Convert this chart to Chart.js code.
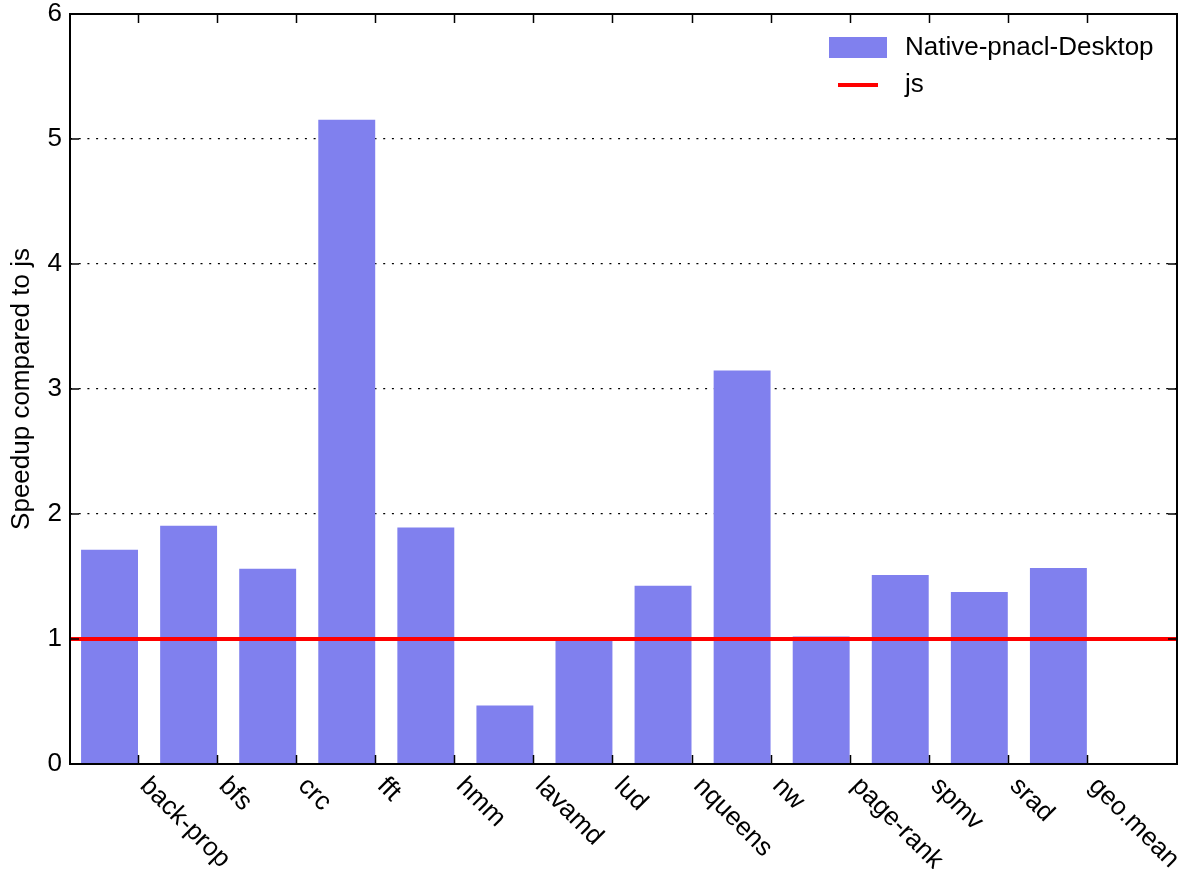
<!DOCTYPE html>
<html><head><meta charset="utf-8">
<script src="https://cdn.jsdelivr.net/npm/chart.js@4/dist/chart.umd.min.js"></script>
<style>html,body{margin:0;padding:0;background:#fff;} #wrap{width:1182px;height:869px;position:relative;}</style>
</head><body><div id="wrap"><canvas id="c"></canvas></div>
<script>
const categories = ['back-prop','bfs','crc','fft','hmm','lavamd','lud','nqueens','nw','page-rank','spmv','srad','geo.mean'];
const nativeValues = [1.714,1.906,1.562,5.154,1.893,0.469,0.995,1.426,3.149,1.021,1.512,1.376,1.568];
const jsX = [-0.5, 13.5];
const jsValues = [1, 1];
const yTickValues = [0,1,2,3,4,5,6];
const xTickOffset = 0.36;

const FONT = "'Liberation Sans', Arial, sans-serif";
const FS = 26;

const framePlugin = {
  id: 'frame',
  afterDraw(chart) {
    const ctx = chart.ctx, a = chart.chartArea;
    const xs = chart.scales.x, ys = chart.scales.y;
    ctx.save();
    ctx.strokeStyle = '#000';
    ctx.lineWidth = 1.5;
    ctx.beginPath();
    xs.ticks.forEach(t => {
      const px = Math.round(xs.getPixelForValue(t.value)) + 0.5;
      ctx.moveTo(px, a.bottom); ctx.lineTo(px, a.bottom - 9);
      ctx.moveTo(px, a.top); ctx.lineTo(px, a.top + 9);
    });
    yTickValues.forEach(v => {
      const py = ys.getPixelForValue(v);
      ctx.moveTo(a.left, py); ctx.lineTo(a.left + 9, py);
      ctx.moveTo(a.right, py); ctx.lineTo(a.right - 9, py);
    });
    ctx.stroke();
    ctx.lineWidth = 2;
    ctx.strokeRect(a.left, a.top, a.right - a.left, a.bottom - a.top);
    ctx.fillStyle = '#000';
    ctx.font = FS + 'px ' + FONT;
    ctx.textAlign = 'left';
    ctx.textBaseline = 'middle';
    xs.ticks.forEach(t => {
      const px = xs.getPixelForValue(t.value);
      const idx = Math.round(t.value - xTickOffset);
      ctx.save();
      ctx.translate(px + 6, a.bottom + 18);
      ctx.rotate(Math.PI / 4);
      ctx.fillText(categories[idx], 0, 0);
      ctx.restore();
    });
    const ds = chart.data.datasets;
    const bar = ds.find(d => d.type !== 'line');
    const line = ds.find(d => d.type === 'line');
    ctx.fillStyle = bar.backgroundColor;
    ctx.fillRect(829, 37, 58, 21);
    ctx.fillStyle = '#000';
    ctx.fillText(bar.label, 905, 48);
    ctx.strokeStyle = line.borderColor;
    ctx.lineWidth = 4;
    ctx.beginPath(); ctx.moveTo(838, 85); ctx.lineTo(878, 85); ctx.stroke();
    ctx.fillStyle = '#000';
    ctx.fillText(line.label, 905, 85);
    ctx.restore();
  }
};

new Chart(document.getElementById('c'), {
  type: 'bar',
  data: {
    datasets: [
      {
        type: 'line', label: 'js', order: 0,
        data: jsX.map((x, i) => ({x, y: jsValues[i]})),
        borderColor: '#ff0000', borderWidth: 4, pointRadius: 0, fill: false, tension: 0
      },
      {
        type: 'bar', label: 'Native-pnacl-Desktop', order: 1,
        data: nativeValues.map((y, i) => ({x: i, y})),
        backgroundColor: 'rgb(128,128,238)', borderWidth: 0,
        barPercentage: 0.72, categoryPercentage: 1.0
      }
    ]
  },
  options: {
    responsive: true, maintainAspectRatio: false, animation: false,
    layout: { padding: { top: 14, right: 5, left: 0, bottom: 0 } },
    plugins: { legend: { display: false }, tooltip: { enabled: false } },
    scales: {
      x: {
        type: 'linear', min: -0.5, max: 13.5, offset: false,
        afterBuildTicks(scale) { scale.ticks = categories.map((c, i) => ({ value: i + xTickOffset })); },
        afterFit(scale) { scale.height = 105; scale.paddingLeft = 0; scale.paddingRight = 0; },
        ticks: { display: false },
        grid: { display: false, offset: false },
        border: { display: false }
      },
      y: {
        min: 0, max: 6, z: 1,
        afterBuildTicks(scale) { scale.ticks = yTickValues.map(v => ({ value: v })); },
        afterFit(scale) { scale.width = 70; scale.paddingTop = 0; scale.paddingBottom = 0; },
        ticks: { color: '#000', font: { family: FONT, size: FS }, padding: 8 },
        grid: { color: '#000', lineWidth: 1.3, drawTicks: false },
        border: { display: false, dash: [2, 6.7] },
        title: { display: true, text: 'Speedup compared to js', color: '#000', font: { family: FONT, size: FS }, padding: { top: 6, bottom: 0 } }
      }
    }
  },
  plugins: [framePlugin]
});
</script>
</body></html>
